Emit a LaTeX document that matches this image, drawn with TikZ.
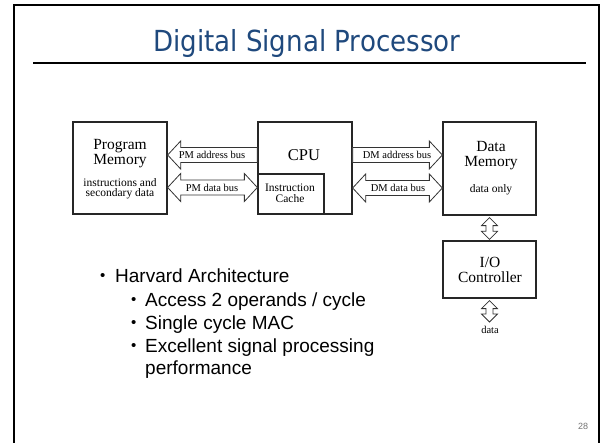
\documentclass[tikz,border=0pt]{standalone}
\usepackage{fontspec}
\setmainfont{Liberation Serif}
\newfontfamily\bulletfont{Liberation Sans}
\newfontfamily\titlefont[FakeStretch=0.9]{DejaVu Sans}
\usetikzlibrary{calc}
\definecolor{titleblue}{RGB}{31,73,125}
\begin{document}
\begin{tikzpicture}[x=1pt,y=-1pt,
  box/.style={draw=black!85, line width=1.3pt, fill=white, inner sep=0pt},
  bus/.style={draw=black!80, line width=0.8pt, fill=white, line join=miter},
  big/.style={font=\fontsize{15.5}{15}\selectfont, align=center, inner sep=0pt},
  small/.style={font=\fontsize{11.5}{10.5}\selectfont, align=center, inner sep=0pt},
  lbl/.style={font=\fontsize{10.5}{10}\selectfont, inner sep=0pt},
  bul/.style={font=\bulletfont\fontsize{19}{19}\selectfont, anchor=base west, inner sep=0pt},
  dot/.style={font=\bulletfont\fontsize{15}{15}\selectfont, anchor=base west, inner sep=0pt}]
\useasboundingbox (0,0) rectangle (605,443);
% slide frame
\draw[line width=2.5pt, line cap=rect] (14,443) -- (14,5) -- (599,5) -- (599,443);
% title
\node[font=\titlefont\fontsize{29}{30}\selectfont, text=titleblue, anchor=base west, inner sep=0pt] (title) at (153,52) {Digital Signal Processor};
\draw[line width=1.5pt] (33,63) -- (586,63);
% blocks
\node[box, minimum width=94pt, minimum height=92pt] (pm) at (120,168) {};
\node[box, minimum width=94pt, minimum height=92pt] (cpu) at (305,168) {};
\node[box, minimum width=66pt, minimum height=40pt, anchor=south west] (cache) at (cpu.south west) {};
\node[box, minimum width=93pt, minimum height=93pt] (dm) at (489.5,168.5) {};
\node[box, minimum width=93pt, minimum height=57pt] (io) at (489.5,269.5) {};
% block texts
\node[big] (pmt) at (120,153.5) {Program\\Memory};
\node[small] (pms) at (120,189) {instructions and\\secondary data};
\node[font=\fontsize{16.5}{16}\selectfont, inner sep=0pt] (cput) at (304,155) {CPU};
\node[small] (cachet) at (290,193.5) {Instruction\\Cache};
\node[big] (dmt) at (491,156) {Data\\Memory};
\node[small] (dms) at (491,190) {data only};
\node[big] (iot) at (490,269.5) {I/O\\Controller};
% bus connectors
\coordinate (pa-t) at (pm.east |- 0,155);
\coordinate (pa-s) at (cpu.west |- 0,155);
\draw[bus] (pa-t) -- ++(13,-14) -- ++(0,6.5) -- ($(pa-s)+(0,-7.5)$) -- ++(0,15)
  -- ($(pa-t)+(13,7.5)$) -- ++(0,6.5) -- cycle;
\coordinate (pd-a) at (pm.east |- 0,187.5);
\coordinate (pd-b) at (cpu.west |- 0,187.5);
\draw[bus] (pd-a) -- ++(13,-14) -- ++(0,6.5) -- ($(pd-b)+(-13,-7.5)$) -- ++(0,-6.5)
  -- (pd-b) -- ++(-13,14) -- ++(0,-6.5) -- ($(pd-a)+(13,7.5)$) -- ++(0,6.5) -- cycle;
\coordinate (da-s) at (cpu.east |- 0,155);
\coordinate (da-t) at (dm.west |- 0,155);
\draw[bus] ($(da-s)+(0,-7.5)$) -- ($(da-t)+(-13,-7.5)$) -- ++(0,-6.5) -- (da-t)
  -- ++(-13,14) -- ++(0,-6.5) -- ($(da-s)+(0,7.5)$) -- cycle;
\coordinate (dd-a) at (cpu.east |- 0,188);
\coordinate (dd-b) at (dm.west |- 0,188);
\draw[bus] (dd-a) -- ++(13,-14) -- ++(0,6.5) -- ($(dd-b)+(-13,-7.5)$) -- ++(0,-6.5)
  -- (dd-b) -- ++(-13,14) -- ++(0,-6.5) -- ($(dd-a)+(13,7.5)$) -- ++(0,6.5) -- cycle;
\node[lbl] (pal) at (212,155) {PM address bus};
\node[lbl] (pdl) at (212,188) {PM data bus};
\node[lbl] (dal) at (397,155) {DM address bus};
\node[lbl] (ddl) at (398,188) {DM data bus};
% vertical connectors
\coordinate (v1a) at ($(dm.south)+(0,2)$);
\coordinate (v1b) at ($(io.north)+(0,-1)$);
\draw[bus] (v1a) -- ++(8,8) -- ++(-4.5,0) -- ($(v1b)+(3.5,-8)$) -- ++(4.5,0) -- (v1b)
  -- ++(-8,-8) -- ++(4.5,0) -- ($(v1a)+(-3.5,8)$) -- ++(-4.5,0) -- cycle;
\coordinate (v2a) at ($(io.south)+(0,2)$);
\coordinate (v2b) at (489.5,322);
\draw[bus] (v2a) -- ++(8,8) -- ++(-4.5,0) -- ($(v2b)+(3.5,-8)$) -- ++(4.5,0) -- (v2b)
  -- ++(-8,-8) -- ++(4.5,0) -- ($(v2a)+(-3.5,8)$) -- ++(-4.5,0) -- cycle;
\node[lbl] (datal) at (490,330) {data};
% bullets
\node[dot] (b1) at (100,281) {•};
\node[bul] (t1) at (115,283) {Harvard Architecture};
\node[dot] (b2) at (131,305) {•};
\node[bul] (t2) at (145,307) {Access 2 operands / cycle};
\node[dot] (b3) at (131,328) {•};
\node[bul] (t3) at (145,330) {Single cycle MAC};
\node[dot] (b4) at (131,351) {•};
\node[bul] (t4) at (145,353) {Excellent signal processing};
\node[bul] (t5) at (145,375) {performance};
% page number
\node[font=\bulletfont\fontsize{9}{9}\selectfont, text=black!55, inner sep=0pt] (pg) at (583,426) {28};
\end{tikzpicture}
\end{document}
